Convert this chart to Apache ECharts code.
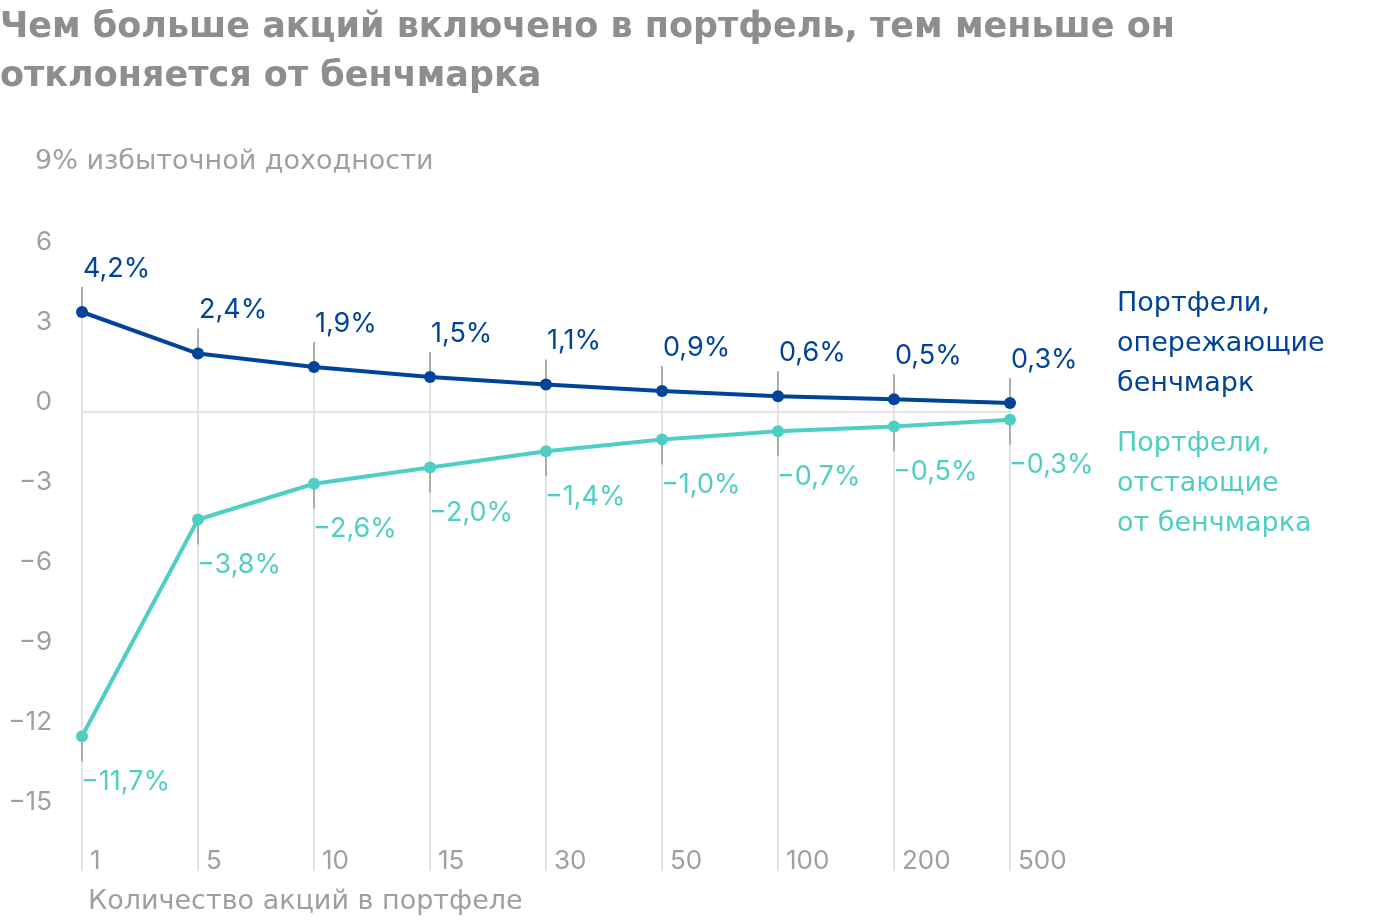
<!DOCTYPE html>
<html>
<head>
<meta charset="utf-8">
<script src="https://cdn.jsdelivr.net/npm/echarts@6/dist/echarts.min.js"></script>
<style>
  html, body { margin: 0; padding: 0; background: #ffffff; }
  #chart { width: 1400px; height: 920px; }
</style>
</head>
<body>
<div id="chart"></div>
<script>
// ---- data ----
const categories = ['1', '5', '10', '15', '30', '50', '100', '200', '500'];
const outperform = [3.75, 2.19, 1.69, 1.31, 1.03, 0.79, 0.59, 0.48, 0.34];
const underperform = [-12.16, -4.03, -2.69, -2.08, -1.47, -1.03, -0.72, -0.54, -0.29];
const outperformLabels = ['4,2%', '2,4%', '1,9%', '1,5%', '1,1%', '0,9%', '0,6%', '0,5%', '0,3%'];
const underperformLabels = ['−11,7%', '−3,8%', '−2,6%', '−2,0%', '−1,4%', '−1,0%', '−0,7%', '−0,5%', '−0,3%'];
const yTicks = [6, 3, 0, -3, -6, -9, -12, -15];

const titleText = 'Чем больше акций включено в портфель, тем меньше он\nотклоняется от бенчмарка';
const yName = '9% избыточной доходности';
const xName = 'Количество акций в портфеле';
const legendOut = 'Портфели,\nопережающие\nбенчмарк';
const legendUnder = 'Портфели,\nотстающие\nот бенчмарка';

// ---- styles ----
const DARK = '#00449a';
const TEAL = '#4fcfc3';
const GRAY_TEXT = '#9f9f9f';
const FONT = 'Inter';
const TEXT_FONT = '"DejaVu Sans"';

const chart = echarts.init(document.getElementById('chart'));

const stickData = categories.map((c, i) => [i, outperform[i], underperform[i]]);

const option = {
  animation: false,
  backgroundColor: '#ffffff',
  textStyle: { fontFamily: FONT },
  grid: { left: 82, right: 390, top: 252, bottom: 28, containLabel: false },
  graphic: [
    {
      type: 'text', left: 0, top: 3,
      style: { text: titleText, font: 'bold 35px ' + TEXT_FONT, fill: '#8e8e8e', lineHeight: 49 }
    },
    {
      type: 'text', left: 35, top: 148,
      style: { text: yName, font: '27px ' + TEXT_FONT, fill: GRAY_TEXT }
    },
    {
      type: 'text', left: 88, top: 888,
      style: { text: xName, font: '27px ' + TEXT_FONT, fill: GRAY_TEXT }
    },
    {
      type: 'text', left: 1117, top: 284,
      style: { text: legendOut, font: '27px ' + TEXT_FONT, fill: DARK, lineHeight: 40 }
    },
    {
      type: 'text', left: 1117, top: 424,
      style: { text: legendUnder, font: '27px ' + TEXT_FONT, fill: TEAL, lineHeight: 40 }
    }
  ],
  xAxis: {
    type: 'category',
    data: categories,
    boundaryGap: false,
    axisLine: { show: false },
    axisTick: { show: false },
    splitLine: { show: false },
    axisLabel: {
      inside: true,
      margin: 18,
      align: 'left',
      padding: [0, 0, 0, 8],
      fontSize: 26,
      color: GRAY_TEXT,
      fontFamily: FONT
    }
  },
  yAxis: {
    type: 'value',
    min: -18,
    max: 6,
    interval: 3,
    axisLine: { show: false },
    axisTick: { show: false },
    splitLine: { show: false },
    axisLabel: {
      margin: 30,
      fontSize: 26,
      color: GRAY_TEXT,
      fontFamily: FONT,
      verticalAlign: 'bottom',
      padding: [0, 0, -3, 0],
      formatter: v => yTicks.indexOf(v) >= 0 ? String(v).replace('-', '−') : ''
    }
  },
  series: [
    {
      type: 'custom',
      silent: true,
      z: 1,
      data: stickData,
      renderItem: function (params, api) {
        const i = api.value(0);
        const top = api.coord([i, api.value(1)]);
        const low = api.coord([i, api.value(2)]);
        const cs = params.coordSys;
        const bottomY = cs.y + cs.height - 21;
        return {
          type: 'group',
          children: [
            { type: 'line', shape: { x1: top[0], y1: top[1], x2: top[0], y2: bottomY },
              style: { stroke: '#e4e4e4', lineWidth: 2 } },
            { type: 'line', shape: { x1: top[0], y1: top[1] - 25, x2: top[0], y2: top[1] },
              style: { stroke: '#acacac', lineWidth: 2 } },
            { type: 'line', shape: { x1: low[0], y1: low[1], x2: low[0], y2: low[1] + 25 },
              style: { stroke: '#acacac', lineWidth: 2 } }
          ]
        };
      }
    },
    {
      type: 'line',
      name: 'zero',
      data: [],
      silent: true,
      markLine: {
        silent: true,
        symbol: 'none',
        label: { show: false },
        lineStyle: { color: '#e4e4e4', width: 2, type: 'solid' },
        data: [{ yAxis: 0 }]
      }
    },
    {
      type: 'line',
      name: 'Портфели, опережающие бенчмарк',
      data: outperform,
      z: 3,
      symbol: 'circle',
      symbolSize: 12,
      lineStyle: { color: DARK, width: 4 },
      itemStyle: { color: DARK },
      label: {
        show: true,
        position: 'top',
        align: 'left',
        distance: 24,
        offset: [1, 0],
        fontSize: 27,
        color: DARK,
        fontFamily: FONT,
        formatter: p => outperformLabels[p.dataIndex]
      }
    },
    {
      type: 'line',
      name: 'Портфели, отстающие от бенчмарка',
      data: underperform,
      z: 3,
      symbol: 'circle',
      symbolSize: 12,
      lineStyle: { color: TEAL, width: 4 },
      itemStyle: { color: TEAL },
      label: {
        show: true,
        position: 'bottom',
        align: 'left',
        distance: 26,
        offset: [-1, 0],
        fontSize: 27,
        color: TEAL,
        fontFamily: FONT,
        formatter: p => underperformLabels[p.dataIndex]
      }
    }
  ]
};

chart.setOption(option);
</script>
</body>
</html>
